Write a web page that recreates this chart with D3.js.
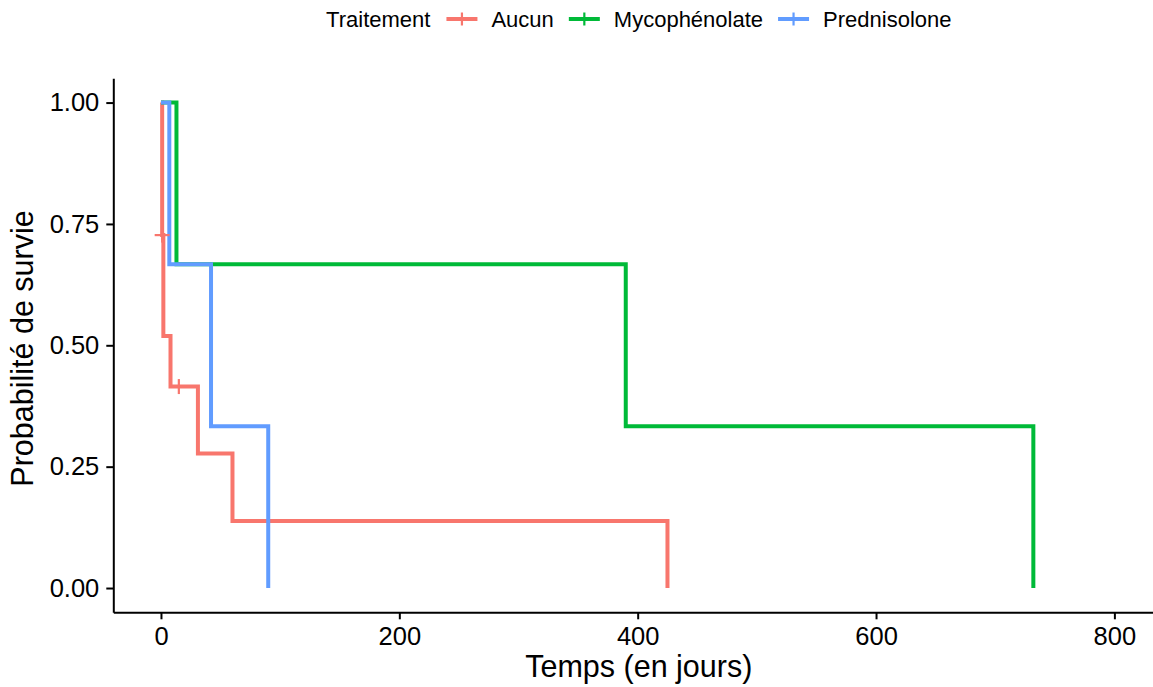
<html>
<head>
  <meta charset="utf-8">
  <script src="https://d3js.org/d3.v7.min.js"></script>
  <style>
    body { margin: 0; background: #fff; font-family: 'Liberation Sans', Arial, Helvetica, sans-serif; }
    .axis text { fill: #000; font-size: 25.5px; }
    .axis line, .axis path { stroke: #000; stroke-width: 2px; }
  </style>
</head>
<body>
  <svg id="km" width="1153" height="687"></svg>
  <script>
    // ----
    // DATA
    // ----
    const groups = ["Aucun", "Mycophénolate", "Prednisolone"];
    const colors = ["#F8766D", "#00BA38", "#619CFF"];

    // step points: time (days) and survival probability
    const aucunTime = [0, 1, 2, 8, 31, 60, 425];
    const aucunSurv = [1, 0.727, 0.519, 0.415, 0.277, 0.138, 0];
    const mycoTime = [0, 13, 390, 732];
    const mycoSurv = [1, 0.667, 0.333, 0];
    const predTime = [0, 7, 42, 90];
    const predSurv = [1, 0.667, 0.333, 0];

    // censored observations (Aucun only)
    const censorTime = [1, 15];
    const censorSurv = [0.727, 0.415];

    const xTicks = [0, 200, 400, 600, 800];
    const yTicks = [0, 0.25, 0.5, 0.75, 1];

    const series = [
      { name: groups[0], color: colors[0], time: aucunTime, surv: aucunSurv },
      { name: groups[1], color: colors[1], time: mycoTime, surv: mycoSurv },
      { name: groups[2], color: colors[2], time: predTime, surv: predSurv }
    ];

    // ----------
    // DIMENSIONS
    // ----------
    const svg = d3.select("svg#km");
    const panel = { left: 113.3, right: 1153, top: 78.3, bottom: 612.3 };

    // ======
    // SCALES
    // ======
    const xScale = d3.scaleLinear()
      .domain([-40, 832.4])
      .range([panel.left, panel.right]);
    const yScale = d3.scaleLinear()
      .domain([-0.05, 1.05])
      .range([panel.bottom, panel.top]);

    // ======
    // CURVES
    // ======
    const stepLine = d3.line()
      .x(d => xScale(d[0]))
      .y(d => yScale(d[1]))
      .curve(d3.curveStepAfter);

    const curves = svg.append("g").attr("id", "curves");
    series.forEach(s => {
      curves.append("path")
        .datum(s.time.map((t, i) => [t, s.surv[i]]))
        .attr("fill", "none")
        .attr("stroke", s.color)
        .attr("stroke-width", 4)
        .attr("stroke-linejoin", "miter")
        .attr("d", stepLine);
    });

    // censor marks "+"
    const cs = 7.5;
    curves.selectAll("g.censor")
      .data(censorTime.map((t, i) => [t, censorSurv[i]]))
      .join("g").attr("class", "censor")
      .attr("transform", d => `translate(${xScale(d[0])},${yScale(d[1])})`)
      .call(g => g.append("line").attr("x1", -cs).attr("x2", cs))
      .call(g => g.append("line").attr("y1", -cs).attr("y2", cs))
      .selectAll("line")
      .attr("stroke", colors[0])
      .attr("stroke-width", 2.2);

    // ======
    //  AXES
    // ======
    svg.append("g")
      .attr("class", "axis")
      .attr("transform", `translate(0,${panel.bottom})`)
      .call(d3.axisBottom(xScale).tickValues(xTicks).tickSize(7).tickSizeOuter(0).tickPadding(6))
      .call(g => g.selectAll("text").attr("dy", "0.76em"));

    svg.append("g")
      .attr("class", "axis")
      .attr("transform", `translate(${panel.left},0)`)
      .call(d3.axisLeft(yScale).tickValues(yTicks).tickFormat(d3.format(".2f")).tickSize(7).tickSizeOuter(0).tickPadding(7));

    // axis titles
    svg.append("text")
      .attr("x", 638.8)
      .attr("y", 677)
      .attr("text-anchor", "middle")
      .attr("font-size", "30.5px")
      .text("Temps (en jours)");

    svg.append("text")
      .attr("transform", `translate(33,348.5) rotate(-90)`)
      .attr("text-anchor", "middle")
      .attr("font-size", "30.5px")
      .text("Probabilité de survie");

    // ======
    // LEGEND
    // ======
    const legend = svg.append("g").attr("id", "legend");
    const legY = 19;
    const keyW = 31;
    let cursor = 0;
    const title = legend.append("text")
      .attr("x", cursor).attr("y", legY).attr("dy", "0.36em")
      .attr("font-size", "22px").text("Traitement");
    cursor += title.node().getComputedTextLength() + 16;
    series.forEach(s => {
      const key = legend.append("g").attr("transform", `translate(${cursor},${legY})`);
      key.append("line").attr("x1", 0).attr("x2", keyW)
        .attr("stroke", s.color).attr("stroke-width", 4);
      key.append("line").attr("x1", keyW / 2).attr("x2", keyW / 2).attr("y1", -6.5).attr("y2", 6.5)
        .attr("stroke", s.color).attr("stroke-width", 2.2);
      cursor += keyW + 14;
      const t = legend.append("text")
        .attr("x", cursor).attr("y", legY).attr("dy", "0.36em")
        .attr("font-size", "22px").text(s.name);
      cursor += t.node().getComputedTextLength() + 15;
    });
    const legWidth = cursor - 15;
    legend.attr("transform", `translate(${638.8 - legWidth / 2},0)`);
  </script>
</body>
</html>
